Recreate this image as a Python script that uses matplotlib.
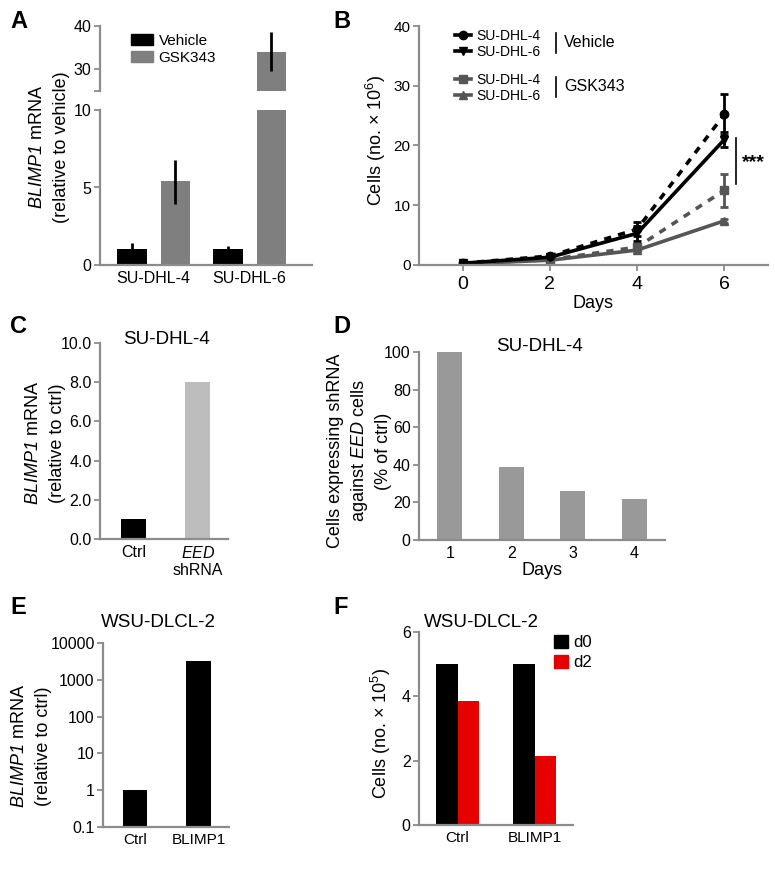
import matplotlib
matplotlib.use("Agg")
import matplotlib.pyplot as plt
import numpy as np
from matplotlib.lines import Line2D
from matplotlib.patches import Patch

plt.rcParams['font.family'] = ['Liberation Sans', 'DejaVu Sans']
plt.rcParams['mathtext.fontset'] = 'custom'
plt.rcParams['mathtext.rm'] = 'Liberation Sans:italic'
plt.rcParams['mathtext.it'] = 'Liberation Sans:italic'
plt.rcParams['mathtext.bf'] = 'Liberation Sans:bold'

# ---------------- data ----------------
# Panel A
a_groups = ['SU-DHL-4', 'SU-DHL-6']
a_vehicle = [1.0, 1.0]
a_vehicle_err = [0.4, 0.2]
a_gsk = [5.4, 34.0]
a_gsk_err_lo = [1.45, 4.5]
a_gsk_err_hi = [1.4, 4.7]

# Panel B
b_days = [0, 2, 4, 6]
b_veh_dhl4 = [0.3, 1.5, 6.0, 25.2]
b_veh_dhl4_err = [0.2, 0.3, 1.2, 3.5]
b_veh_dhl6 = [0.3, 1.3, 5.3, 21.0]
b_veh_dhl6_err = [0.2, 0.3, 1.2, 1.3]
b_gsk_dhl4 = [0.2, 0.9, 3.0, 12.5]
b_gsk_dhl4_err = [0.1, 0.2, 0.5, 2.8]
b_gsk_dhl6 = [0.2, 0.8, 2.5, 7.4]
b_gsk_dhl6_err = [0.1, 0.1, 0.3, 0.3]

# Panel C
c_labels = ['Ctrl', '$EED$\nshRNA']
c_values = [1.0, 8.0]

# Panel D
d_days = [1, 2, 3, 4]
d_values = [100, 39, 26, 22]

# Panel E
e_labels = ['Ctrl', 'BLIMP1']
e_values = [1.0, 3300.0]

# Panel F
f_labels = ['Ctrl', 'BLIMP1']
f_d0 = [5.0, 5.0]
f_d2 = [3.85, 2.15]

# ---------------- layout helpers ----------------
W, H = 775, 872
fig = plt.figure(figsize=(W / 100, H / 100), dpi=100)

def axpx(l, t, r, b):
    return fig.add_axes([l / W, 1 - b / H, (r - l) / W, (b - t) / H])

def fx(x):
    return x / W

def fy(y):
    return 1 - y / H

SPINE = '#8c8c8c'
TICK_FS = 11.5
LABEL_FS = 13
TITLE_FS = 13.5

def style(ax, xticks=False):
    for s in ['top', 'right']:
        ax.spines[s].set_visible(False)
    for s in ['left', 'bottom']:
        ax.spines[s].set_color(SPINE)
        ax.spines[s].set_linewidth(1.6)
    ax.tick_params(axis='y', direction='out', length=4, width=1.3, color=SPINE,
                   labelsize=TICK_FS, pad=2)
    ax.tick_params(axis='x', direction='out', length=4 if xticks else 0, width=1.3,
                   color=SPINE, labelsize=TICK_FS, pad=4)

def letter(x, y, s):
    fig.text(fx(x), fy(y), s, fontsize=17, fontweight='bold', va='top', ha='left')

# ---------------- Panel A ----------------
xa = np.arange(len(a_groups))
wa = 0.31
off = 0.227
axA_top = axpx(100, 26, 312, 90.7)
axA = axpx(100, 110, 312, 265)
for ax in (axA_top, axA):
    ax.bar(xa - off, a_vehicle, wa, color='black', label='Vehicle')
    ax.bar(xa + off, a_gsk, wa, color='#7f7f7f', label='GSK343')
    ax.errorbar(xa - off, a_vehicle, yerr=a_vehicle_err, fmt='none', ecolor='black',
                elinewidth=2, capsize=0)
    ax.errorbar(xa + off, a_gsk, yerr=[a_gsk_err_lo, a_gsk_err_hi], fmt='none',
                ecolor='black', elinewidth=2, capsize=0)
    ax.set_xlim(-0.56, 1.65)
    style(ax)
axA_top.set_ylim(25, 40)
axA_top.set_yticks([25, 30, 40])
axA_top.set_yticklabels(['', '30', '40'])
axA_top.spines['bottom'].set_visible(False)
axA_top.set_xticks([])
axA.set_ylim(0, 10)
axA.set_yticks([0, 5, 10])
axA.set_xticks(xa)
axA.set_xticklabels(a_groups)
fig.legend(handles=[Patch(color='black'), Patch(color='#7f7f7f')],
           labels=['Vehicle', 'GSK343'], loc='upper left',
           bbox_to_anchor=(fx(131), fy(34)), frameon=False, borderaxespad=0,
           borderpad=0, handlelength=1.45, handleheight=0.75, handletextpad=0.35,
           labelspacing=0.2, fontsize=11)
fig.text(fx(38), fy(147), '$BLIMP1$ mRNA', rotation=90, fontsize=LABEL_FS,
         ha='center', va='center')
fig.text(fx(62), fy(147), '(relative to vehicle)', rotation=90, fontsize=LABEL_FS,
         ha='center', va='center')
letter(10, 10, 'A')

# ---------------- Panel B ----------------
axB = axpx(419, 26, 768, 265)
style(axB, xticks=True)
BLACK = 'black'
GRAY = '#555555'
ls_dash = (0, (2.0, 2.0))
axB.errorbar(b_days, b_gsk_dhl6, yerr=b_gsk_dhl6_err, color=GRAY, lw=2.6, marker='^',
             ms=6, capsize=3, elinewidth=2, capthick=2)
axB.errorbar(b_days, b_gsk_dhl4, yerr=b_gsk_dhl4_err, color=GRAY, lw=2.6, ls=ls_dash,
             marker='s', ms=6, capsize=3, elinewidth=2, capthick=2)
axB.errorbar(b_days, b_veh_dhl6, yerr=b_veh_dhl6_err, color=BLACK, lw=2.6, marker='v',
             ms=6, capsize=3, elinewidth=2, capthick=2)
axB.errorbar(b_days, b_veh_dhl4, yerr=b_veh_dhl4_err, color=BLACK, lw=2.6, ls=ls_dash,
             marker='o', ms=6, capsize=3, elinewidth=2, capthick=2)
axB.set_xlim(-1, 7)
axB.set_ylim(0, 40)
axB.set_xticks(b_days)
axB.set_yticks([0, 10, 20, 30, 40])
axB.tick_params(axis='x', labelsize=14)
axB.tick_params(axis='y', labelsize=11)
axB.set_xlabel('Days', fontsize=LABEL_FS, labelpad=1)
fig.text(fx(376), fy(140), 'Cells (no. × 10$^{\\mathregular{6}}$)', rotation=90,
         fontsize=LABEL_FS, ha='center', va='center')
h_v4 = Line2D([], [], color=BLACK, lw=2.6, marker='o', ms=6)
h_v6 = Line2D([], [], color=BLACK, lw=2.6, marker='v', ms=6)
h_g4 = Line2D([], [], color=GRAY, lw=2.6, marker='s', ms=6)
h_g6 = Line2D([], [], color=GRAY, lw=2.6, marker='^', ms=6)
legkw = dict(loc='upper left', frameon=False, borderaxespad=0, borderpad=0,
             handlelength=1.15, handletextpad=0.4, labelspacing=0.15, fontsize=10)
fig.legend(handles=[h_v4, h_v6], labels=['SU-DHL-4', 'SU-DHL-6'],
           bbox_to_anchor=(fx(455), fy(29)), **legkw)
fig.legend(handles=[h_g4, h_g6], labels=['SU-DHL-4', 'SU-DHL-6'],
           bbox_to_anchor=(fx(455), fy(73)), **legkw)
axB.plot([0.393, 0.393], [0.972, 0.888], transform=axB.transAxes, color='black', lw=1.2)
axB.plot([0.393, 0.393], [0.788, 0.703], transform=axB.transAxes, color='black', lw=1.2)
axB.text(0.415, 0.93, 'Vehicle', transform=axB.transAxes, fontsize=11.5, va='center')
axB.text(0.415, 0.746, 'GSK343', transform=axB.transAxes, fontsize=11.5, va='center')
axB.plot([0.908, 0.908], [0.533, 0.340], transform=axB.transAxes, color='black', lw=1.2)
axB.text(0.925, 0.43, '***', transform=axB.transAxes, fontsize=14, fontweight='bold',
         va='center', ha='left')
letter(333, 10, 'B')

# ---------------- Panel C ----------------
axC = axpx(100, 343, 228, 539)
style(axC)
xc = np.arange(len(c_values))
axC.bar(xc, c_values, 0.39, color=['black', '#bdbdbd'])
axC.set_xlim(-0.53, 1.47)
axC.set_ylim(0, 10)
axC.set_yticks([0, 2, 4, 6, 8, 10])
axC.set_yticklabels([f'{v:.1f}' for v in [0, 2, 4, 6, 8, 10]])
axC.set_xticks(xc)
axC.set_xticklabels(c_labels, linespacing=1.2)
axC.text(0.52, 1.02, 'SU-DHL-4', transform=axC.transAxes, fontsize=TITLE_FS,
         ha='center', va='center')
fig.text(fx(34), fy(443), '$BLIMP1$ mRNA', rotation=90, fontsize=LABEL_FS,
         ha='center', va='center')
fig.text(fx(58), fy(443), '(relative to ctrl)', rotation=90, fontsize=LABEL_FS,
         ha='center', va='center')
letter(10, 315, 'C')

# ---------------- Panel D ----------------
axD = axpx(419, 352, 665, 540)
style(axD)
axD.bar(d_days, d_values, 0.4, color='#999999')
axD.set_xlim(0.5, 4.5)
axD.set_ylim(0, 100)
axD.set_yticks([0, 20, 40, 60, 80, 100])
axD.set_xticks(d_days)
axD.set_xlabel('Days', fontsize=LABEL_FS, labelpad=1)
axD.text(0.49, 1.03, 'SU-DHL-4', transform=axD.transAxes, fontsize=TITLE_FS,
         ha='center', va='center')
fig.text(fx(336), fy(451), 'Cells expressing shRNA', rotation=90, fontsize=LABEL_FS,
         ha='center', va='center')
fig.text(fx(360), fy(451), 'against $EED$ cells', rotation=90, fontsize=LABEL_FS,
         ha='center', va='center')
fig.text(fx(384), fy(451), '(% of ctrl)', rotation=90, fontsize=LABEL_FS,
         ha='center', va='center')
letter(333, 315, 'D')

# ---------------- Panel E ----------------
axE = axpx(103, 643, 229, 827)
style(axE)
xe = np.arange(len(e_values))
axE.bar(xe, e_values, 0.386, color='black')
axE.set_yscale('log')
axE.set_ylim(0.1, 10000)
axE.set_xlim(-0.50, 1.48)
yt = [0.1, 1, 10, 100, 1000, 10000]
axE.set_yticks(yt)
axE.set_yticklabels(['0.1', '1', '10', '100', '1000', '10000'])
axE.minorticks_off()
axE.set_xticks(xe)
axE.set_xticklabels(e_labels, fontsize=11)
axE.text(0.44, 1.11, 'WSU-DLCL-2', transform=axE.transAxes, fontsize=TITLE_FS,
         ha='center', va='center')
fig.text(fx(20), fy(746), '$BLIMP1$ mRNA', rotation=90, fontsize=LABEL_FS,
         ha='center', va='center')
fig.text(fx(44), fy(746), '(relative to ctrl)', rotation=90, fontsize=LABEL_FS,
         ha='center', va='center')
letter(10, 596, 'E')

# ---------------- Panel F ----------------
axF = axpx(419, 632, 573, 825)
style(axF)
xf = np.arange(len(f_labels))
wf = 0.285
axF.bar(xf - wf / 2, f_d0, wf, color='black', label='d0')
axF.bar(xf + wf / 2, f_d2, wf, color='#e60000', label='d2')
axF.set_xlim(-0.5, 1.5)
axF.set_ylim(0, 6)
axF.set_yticks([0, 2, 4, 6])
axF.set_xticks(xf)
axF.set_xticklabels(f_labels, fontsize=11)
axF.text(0.03, 1.05, 'WSU-DLCL-2', transform=axF.transAxes, fontsize=TITLE_FS,
         ha='left', va='center')
fig.legend(handles=[Patch(color='black'), Patch(color='#e60000')], labels=['d0', 'd2'],
           loc='upper left', bbox_to_anchor=(fx(554), fy(635)), frameon=False,
           borderaxespad=0, borderpad=0, handlelength=0.85, handleheight=0.85,
           handletextpad=0.3, labelspacing=0.25, fontsize=12)
fig.text(fx(381), fy(733), 'Cells (no. × 10$^{\\mathregular{5}}$)', rotation=90,
         fontsize=LABEL_FS, ha='center', va='center')
letter(333, 596, 'F')

fig.savefig('out.png', dpi=100)
